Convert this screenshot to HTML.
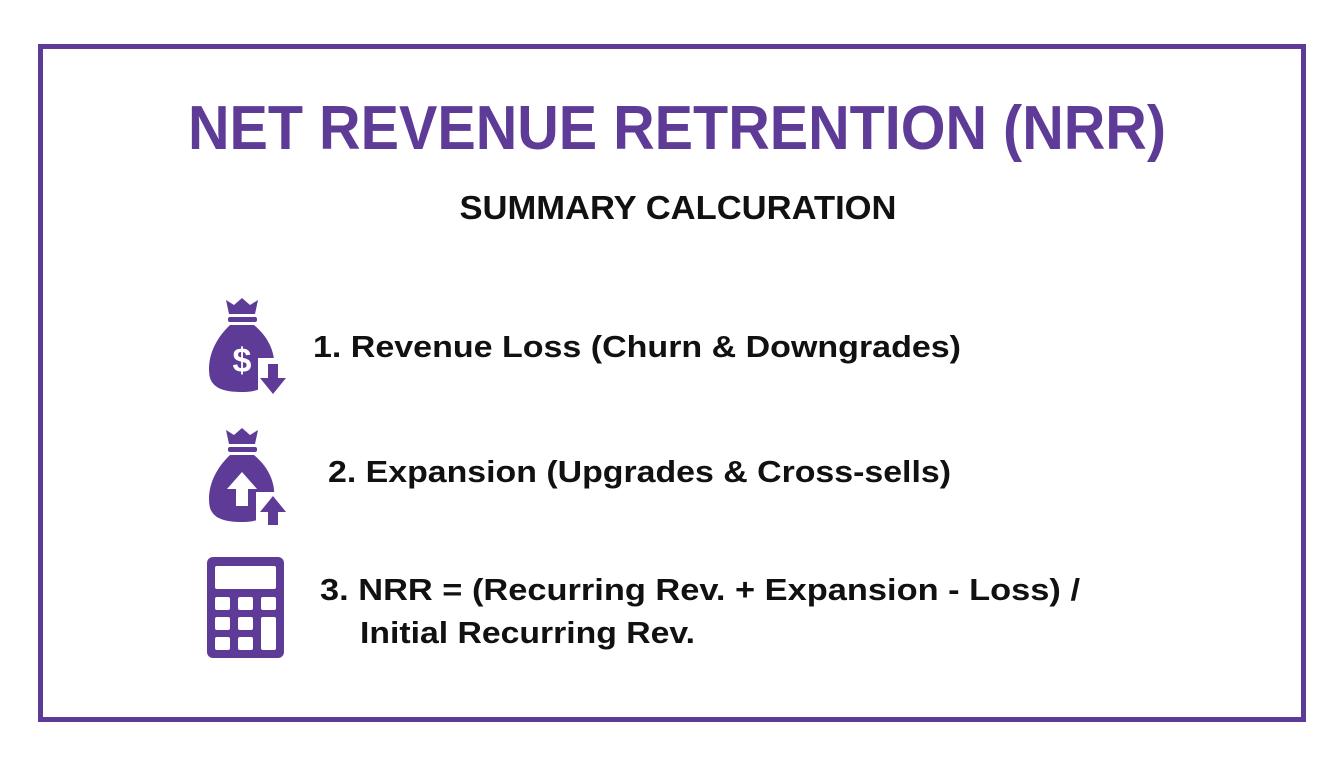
<!DOCTYPE html>
<html><head><meta charset="utf-8"><style>
html,body{margin:0;padding:0;background:#fff;}
svg{display:block}
text{font-family:"Liberation Sans",Arial,sans-serif;font-weight:bold}
</style></head><body>
<svg width="1344" height="768" viewBox="0 0 1344 768" xmlns="http://www.w3.org/2000/svg">
<rect width="1344" height="768" fill="#fff"/>
<rect x="40.5" y="46.5" width="1263" height="673" fill="none" stroke="#5f3b98" stroke-width="5"/>
<text x="677" y="149" text-anchor="middle" font-size="62" fill="#5f3b98" textLength="978" lengthAdjust="spacingAndGlyphs">NET REVENUE RETRENTION (NRR)</text>
<text x="678" y="219" text-anchor="middle" font-size="33" fill="#111" textLength="437" lengthAdjust="spacingAndGlyphs">SUMMARY CALCURATION</text>
<text x="313" y="357" font-size="31" fill="#111" textLength="648" lengthAdjust="spacingAndGlyphs">1. Revenue Loss (Churn &amp; Downgrades)</text>
<text x="328" y="482" font-size="31" fill="#111" textLength="623" lengthAdjust="spacingAndGlyphs">2. Expansion (Upgrades &amp; Cross-sells)</text>
<text x="320" y="600" font-size="31" fill="#111" textLength="760" lengthAdjust="spacingAndGlyphs">3. NRR = (Recurring Rev. + Expansion - Loss) /</text>
<text x="360" y="643" font-size="31" fill="#111" textLength="335" lengthAdjust="spacingAndGlyphs">Initial Recurring Rev.</text>
<!-- bag 1 -->
<g fill="#5f3b98">
<path d="M226 300 L234 305 L242 298 L250 305 L258 300 L255 314 L229 314 Z"/>
<rect x="228" y="317" width="29" height="5" rx="2"/>
<path d="M230 325 L254 325 C272 340 278 360 272 378 C266 390 252 392 242 392 C228 392 214 390 210 378 C206 360 214 340 230 325 Z"/>
<text x="242" y="372" text-anchor="middle" font-size="34" fill="#fff">$</text>
<rect x="258" y="358" width="32" height="40" fill="#fff"/>
<path d="M268 364 L278 364 L278 378 L286 378 L273 394 L260 378 L268 378 Z"/>
</g>
<!-- bag 2 -->
<g fill="#5f3b98">
<path d="M226 430 L234 435 L242 428 L250 435 L258 430 L255 444 L229 444 Z"/>
<rect x="228" y="447" width="29" height="5" rx="2"/>
<path d="M230 455 L254 455 C272 470 278 490 272 508 C266 520 252 522 242 522 C228 522 214 520 210 508 C206 490 214 470 230 455 Z"/>
<path d="M242 472 L257 489 L248 489 L248 506 L236 506 L236 489 L227 489 Z" fill="#fff"/>
<rect x="256" y="492" width="32" height="34" fill="#fff"/>
<path d="M273 496 L286 512 L278 512 L278 525 L268 525 L268 512 L260 512 Z"/>
</g>
<!-- calculator -->
<g>
<rect x="207" y="557" width="77" height="101" rx="6" fill="#5f3b98"/>
<rect x="215" y="566" width="61" height="23" rx="2" fill="#fff"/>
<g fill="#fff">
<rect x="215" y="597" width="15" height="13" rx="2"/><rect x="238" y="597" width="15" height="13" rx="2"/><rect x="261" y="597" width="15" height="13" rx="2"/>
<rect x="215" y="617" width="15" height="13" rx="2"/><rect x="238" y="617" width="15" height="13" rx="2"/>
<rect x="215" y="637" width="15" height="13" rx="2"/><rect x="238" y="637" width="15" height="13" rx="2"/>
<rect x="261" y="617" width="15" height="33" rx="2"/>
</g>
</g>
</svg>
</body></html>
